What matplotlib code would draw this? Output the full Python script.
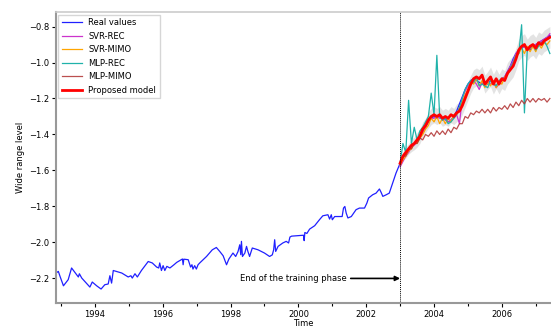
import numpy as np
import matplotlib.pyplot as plt
from matplotlib.ticker import MultipleLocator

# training period (irregular samples), decimal years
train_t = [1992.85, 1992.92, 1992.97, 1993.07, 1993.21, 1993.31, 1993.46, 1993.51, 1993.54, 1993.61,
           1993.85, 1993.92, 1994.05, 1994.18, 1994.29, 1994.39, 1994.44, 1994.49, 1994.54, 1994.79,
           1994.98, 1995.06, 1995.10, 1995.18, 1995.25, 1995.37, 1995.57, 1995.69, 1995.82, 1995.88,
           1995.91, 1995.96, 1996.01, 1996.06, 1996.12, 1996.21, 1996.33, 1996.41, 1996.58, 1996.60,
           1996.62, 1996.75, 1996.82, 1996.86, 1996.89, 1996.94, 1996.99, 1997.04, 1997.09, 1997.29,
           1997.46, 1997.58, 1997.68, 1997.78, 1997.88, 1997.95, 1998.07, 1998.15, 1998.22, 1998.27,
           1998.30, 1998.32, 1998.35, 1998.42, 1998.47, 1998.51, 1998.56, 1998.64, 1998.81, 1999.00,
           1999.15, 1999.23, 1999.27, 1999.30, 1999.33, 1999.40, 1999.54, 1999.64, 1999.71, 1999.75,
           1999.80, 2000.15, 2000.17, 2000.19, 2000.25, 2000.33, 2000.48, 2000.62, 2000.72, 2000.87,
           2000.92, 2000.97, 2001.00, 2001.07, 2001.29, 2001.33, 2001.37, 2001.41, 2001.46, 2001.56,
           2001.70, 2001.80, 2001.95, 2002.02, 2002.07, 2002.19, 2002.29, 2002.39, 2002.44, 2002.49,
           2002.59, 2002.68, 2002.78, 2002.88, 2002.98]
train_y = [-2.170, -2.161, -2.189, -2.241, -2.207, -2.142, -2.179, -2.192, -2.174, -2.198,
           -2.248, -2.220, -2.241, -2.259, -2.235, -2.231, -2.185, -2.226, -2.156, -2.170,
           -2.192, -2.185, -2.198, -2.174, -2.192, -2.156, -2.106, -2.114, -2.137, -2.142,
           -2.114, -2.156, -2.129, -2.156, -2.133, -2.142, -2.124, -2.111, -2.092, -2.124,
           -2.093, -2.096, -2.137, -2.124, -2.148, -2.129, -2.148, -2.124, -2.114, -2.078,
           -2.041, -2.028, -2.050, -2.074, -2.124, -2.092, -2.059, -2.078, -2.050, -2.013,
           -2.068, -1.994, -2.078, -2.059, -2.022, -2.050, -2.078, -2.031, -2.041, -2.059,
           -2.078, -2.069, -2.041, -1.985, -2.050, -2.022, -2.003, -1.994, -2.003, -1.970,
           -1.965, -1.960, -1.990, -1.945, -1.950, -1.926, -1.907, -1.874, -1.852, -1.846,
           -1.870, -1.846, -1.874, -1.856, -1.856, -1.809, -1.800, -1.837, -1.864, -1.856,
           -1.818, -1.809, -1.809, -1.781, -1.753, -1.735, -1.726, -1.703, -1.722, -1.744,
           -1.735, -1.726, -1.670, -1.614, -1.568]

# test period, monthly from 2003.0
n_test = 54
test_t = 2003.0 + np.arange(n_test) / 12.0

real_test = [-1.56, -1.53, -1.51, -1.49, -1.47, -1.45, -1.44, -1.42, -1.39, -1.36,
             -1.33, -1.31, -1.30, -1.31, -1.30, -1.32, -1.31, -1.33, -1.32, -1.30,
             -1.27, -1.23, -1.19, -1.15, -1.12, -1.10, -1.09, -1.10, -1.11, -1.12,
             -1.11, -1.12, -1.10, -1.11, -1.13, -1.11, -1.09, -1.08, -1.05, -1.02,
             -0.98, -0.95, -0.93, -0.92, -0.91, -0.92, -0.93, -0.91, -0.90, -0.89,
             -0.88, -0.87, -0.86, -0.85]
svr_rec = [-1.58, -1.55, -1.52, -1.50, -1.47, -1.46, -1.44, -1.42, -1.39, -1.36,
           -1.33, -1.31, -1.31, -1.30, -1.31, -1.31, -1.32, -1.33, -1.32, -1.31,
           -1.29, -1.34, -1.20, -1.16, -1.13, -1.11, -1.10, -1.12, -1.15, -1.11,
           -1.12, -1.11, -1.12, -1.11, -1.14, -1.12, -1.10, -1.08, -1.05, -1.02,
           -0.99, -0.95, -0.93, -0.92, -0.91, -0.92, -0.92, -0.91, -0.90, -0.89,
           -0.88, -0.87, -0.86, -0.84]
svr_mimo = [-1.57, -1.54, -1.52, -1.49, -1.48, -1.45, -1.45, -1.42, -1.40, -1.37,
            -1.35, -1.31, -1.33, -1.30, -1.34, -1.31, -1.34, -1.31, -1.33, -1.29,
            -1.29, -1.25, -1.22, -1.18, -1.15, -1.11, -1.12, -1.09, -1.13, -1.10,
            -1.14, -1.11, -1.13, -1.10, -1.14, -1.11, -1.12, -1.08, -1.07, -1.03,
            -1.01, -0.96, -0.95, -0.92, -0.95, -0.91, -0.94, -0.91, -0.94, -0.90,
            -0.92, -0.89, -0.90, -0.88]
mlp_rec = [-1.56, -1.45, -1.50, -1.21, -1.45, -1.36, -1.43, -1.38, -1.36, -1.33,
           -1.30, -1.17, -1.29, -0.96, -1.30, -1.32, -1.31, -1.34, -1.33, -1.31,
           -1.29, -1.25, -1.20, -1.15, -1.12, -1.10, -1.11, -1.08, -1.13, -1.12,
           -1.13, -1.14, -1.10, -1.12, -1.13, -1.10, -1.09, -1.10, -1.06, -1.03,
           -1.00, -0.96, -0.95, -0.79, -1.28, -0.93, -0.92, -0.90, -0.93, -0.91,
           -0.89, -0.88, -0.91, -0.95]
mlp_mimo = [-1.56, -1.52, -1.52, -1.48, -1.48, -1.45, -1.45, -1.42, -1.43, -1.40,
            -1.41, -1.39, -1.41, -1.38, -1.40, -1.38, -1.40, -1.37, -1.39, -1.36,
            -1.37, -1.34, -1.34, -1.30, -1.31, -1.28, -1.29, -1.27, -1.28, -1.26,
            -1.28, -1.26, -1.28, -1.25, -1.27, -1.25, -1.26, -1.24, -1.26, -1.23,
            -1.25, -1.22, -1.24, -1.21, -1.23, -1.20, -1.22, -1.20, -1.22, -1.20,
            -1.21, -1.20, -1.22, -1.20]
proposed = [-1.56, -1.52, -1.50, -1.48, -1.46, -1.45, -1.43, -1.41, -1.37, -1.35,
            -1.32, -1.30, -1.29, -1.30, -1.29, -1.31, -1.30, -1.31, -1.29, -1.30,
            -1.28, -1.27, -1.24, -1.20, -1.16, -1.12, -1.09, -1.08, -1.09, -1.07,
            -1.12, -1.10, -1.08, -1.12, -1.09, -1.12, -1.09, -1.10, -1.06, -1.04,
            -1.02, -0.98, -0.93, -0.91, -0.90, -0.93, -0.91, -0.90, -0.92, -0.89,
            -0.90, -0.88, -0.87, -0.86]
# half width of the grey band around the proposed model
band_half = [0.02, 0.025, 0.03, 0.03, 0.035, 0.035, 0.04, 0.04, 0.04, 0.04,
             0.045, 0.045, 0.045, 0.045, 0.045, 0.045, 0.045, 0.045, 0.045, 0.045,
             0.05, 0.05, 0.05, 0.05, 0.05, 0.05, 0.05, 0.05, 0.05, 0.05,
             0.05, 0.05, 0.055, 0.055, 0.055, 0.055, 0.055, 0.055, 0.06, 0.06,
             0.06, 0.06, 0.06, 0.06, 0.06, 0.06, 0.06, 0.06, 0.06, 0.06,
             0.06, 0.06, 0.06, 0.06]

real_t = np.concatenate([train_t, test_t])
real_y = np.concatenate([train_y, real_test])
prop = np.array(proposed)
half = np.array(band_half)

fig = plt.figure(figsize=(5.51, 3.28), dpi=100)
ax = fig.add_axes([0.1016, 0.076, 0.8984, 0.887])

ax.fill_between(test_t, prop - half, prop + half, color="#dddddd", alpha=0.8, lw=0)
ax.plot(real_t, real_y, color="#2020ff", lw=0.9, label="Real values")
ax.plot(test_t, svr_rec, color="#cc33cc", lw=0.9, label="SVR-REC")
ax.plot(test_t, svr_mimo, color="orange", lw=0.9, label="SVR-MIMO")
ax.plot(test_t, mlp_rec, color="lightseagreen", lw=0.9, label="MLP-REC")
ax.plot(test_t, mlp_mimo, color="#b03030", lw=0.9, alpha=0.85, label="MLP-MIMO")
ax.plot(test_t, proposed, color="red", lw=2, label="Proposed model")

ax.axvline(2003.0, color="k", lw=0.7, ls=(0, (1, 1)))
ax.annotate("End of the training phase", xy=(2003.0, -2.2), xytext=(2001.42, -2.2),
            ha="right", va="center", fontsize=6,
            arrowprops=dict(arrowstyle="-|>", color="k", lw=1.2, mutation_scale=7,
                            shrinkA=1, shrinkB=0))

ax.set_xlim(1992.85, 2007.45)
ax.set_ylim(-2.337, -0.72)
ax.xaxis.set_major_locator(MultipleLocator(2))
ax.xaxis.set_minor_locator(MultipleLocator(1))
ax.yaxis.set_major_locator(MultipleLocator(0.2))
ax.tick_params(labelsize=6, length=3, width=0.8, pad=2)
ax.tick_params(which="minor", length=2, width=0.8)
ax.set_xlabel("Time", fontsize=6, labelpad=0)
ax.set_ylabel("Wide range level", fontsize=6, labelpad=3)

for side in ("left", "bottom"):
    ax.spines[side].set_color("#999999")
    ax.spines[side].set_linewidth(1.5)
ax.spines["top"].set_color("#cccccc")
ax.spines["top"].set_linewidth(1.2)
ax.spines["right"].set_visible(False)

ax.legend(loc="upper left", fontsize=6, frameon=True, edgecolor="#cccccc",
          fancybox=False, handlelength=2.4, borderaxespad=0.3, labelspacing=0.55)

fig.savefig("out.png", dpi=100)
